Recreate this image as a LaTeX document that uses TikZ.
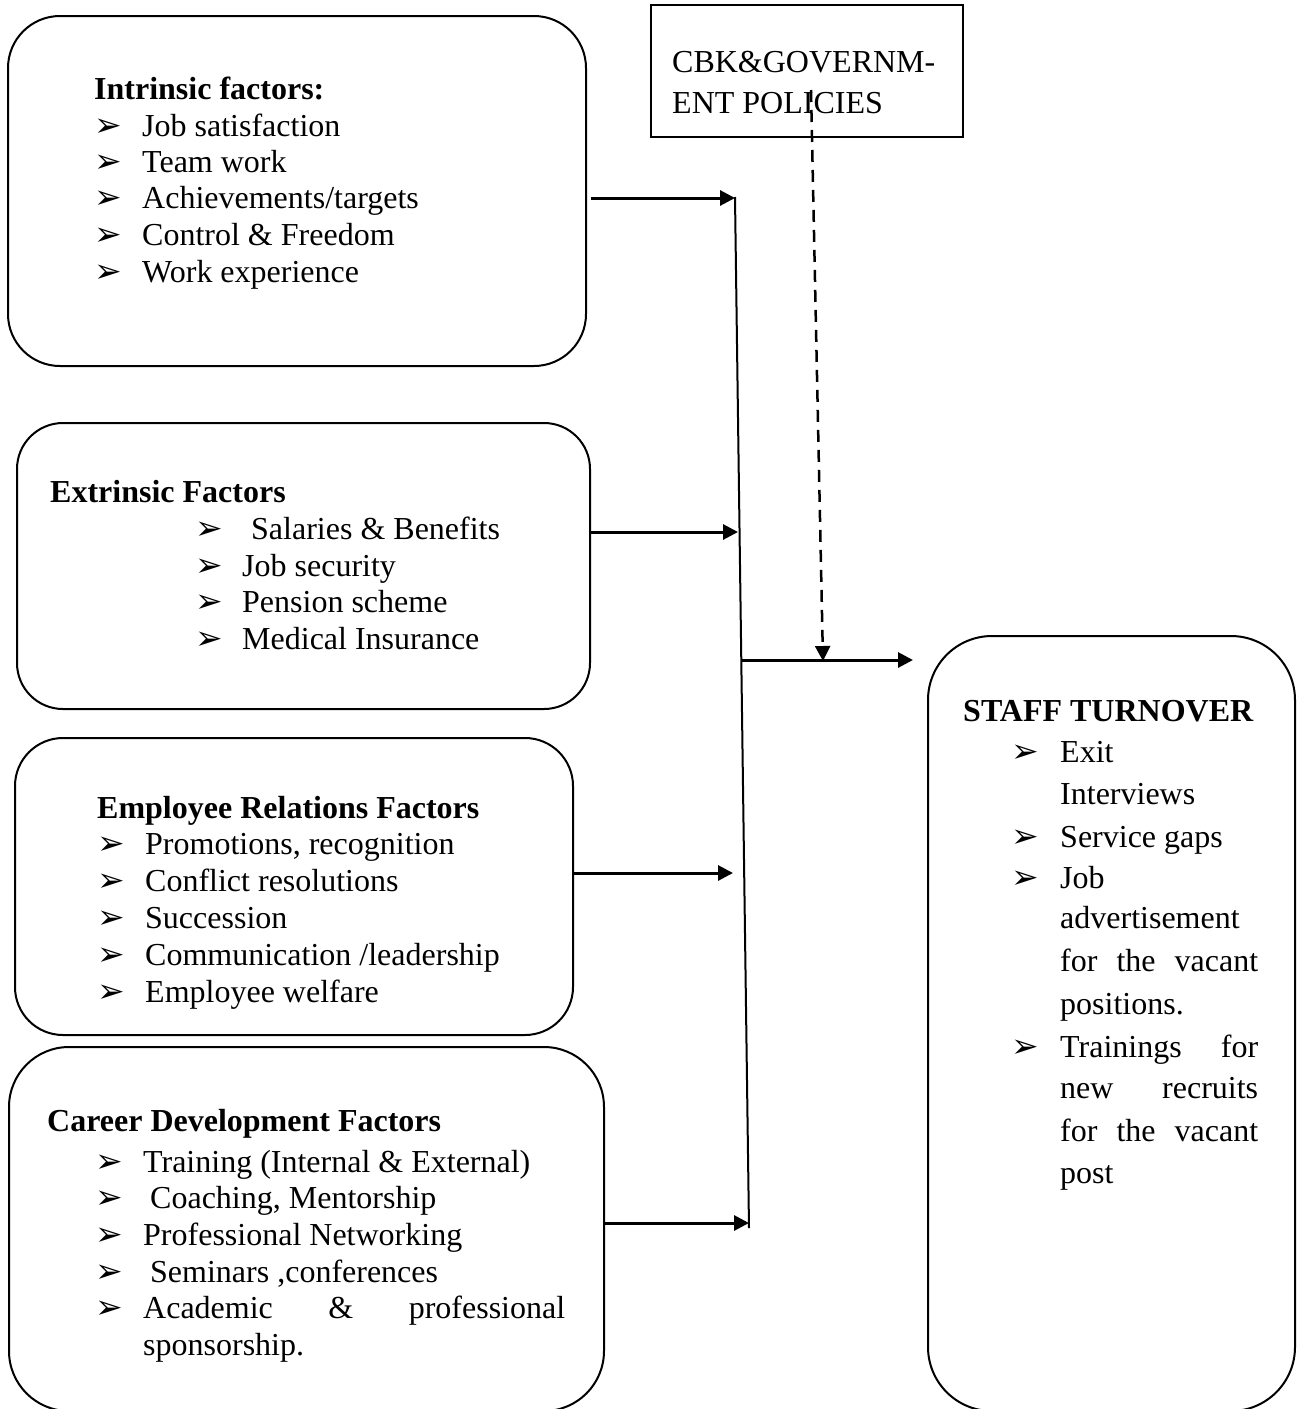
\documentclass[tikz,border=0pt]{standalone}
\usepackage{fontspec}
\setmainfont{Liberation Serif}
\newfontfamily\dejavu{DejaVu Sans}
\usetikzlibrary{arrows.meta}
\newcommand\fs{\fontsize{32}{36}\selectfont}
\newcommand\bulfont{\dejavu\fontsize{33}{36}\selectfont}
\newcommand\bitem[5]{%
  \node[bul] (#1b) at (#2,#4) {➢};
  \node[txt] (#1) at (#3,#4) {#5};}
\tikzset{
  boxs/.style={draw, line width=2pt, inner sep=0pt},
  txt/.style={anchor=base west, inner sep=0pt, font=\fs},
  ttl/.style={anchor=base west, inner sep=0pt, font=\fs\bfseries},
  bul/.style={anchor=base west, inner sep=0pt, font=\bulfont},
  arr/.style={line width=3pt, -{Triangle[length=15pt,width=15pt]}},
  vline/.style={line width=2pt},
  dsh/.style={line width=2.5pt, dash pattern=on 12pt off 8pt, -{Triangle[length=15pt,width=15pt]}},
}
\begin{document}
\begin{tikzpicture}[x=1pt,y=-1pt]
\useasboundingbox (0,0) rectangle (1297,1409);
% boxes
\node[boxs, rounded corners=52pt, minimum width=578pt, minimum height=350pt] (intr) at (297,191) {};
\node[boxs, rounded corners=46pt, minimum width=573pt, minimum height=286pt] (extr) at (303.5,566) {};
\node[boxs, rounded corners=48pt, minimum width=558pt, minimum height=297pt] (empr) at (294,886.5) {};
\node[boxs, rounded corners=60pt, minimum width=595pt, minimum height=364pt] (care) at (306.5,1229) {};
\node[boxs, rounded corners=64pt, minimum width=367pt, minimum height=775pt] (stt) at (1111.5,1023.5) {};
\node[boxs, minimum width=312pt, minimum height=132pt] (cbk) at (807,71) {};
% intrinsic
\node[ttl] (i0) at (94,99) {Intrinsic factors:};
\bitem{i1}{94}{142}{136}{Job satisfaction}
\bitem{i2}{94}{142}{172}{Team work}
\bitem{i3}{94}{142}{208}{Achievements/targets}
\bitem{i4}{94}{142}{245}{Control \& Freedom}
\bitem{i5}{94}{142}{282}{Work experience}
% extrinsic
\node[ttl] (e0) at (50,502) {Extrinsic Factors};
\bitem{e1}{195}{251}{539}{Salaries \& Benefits}
\bitem{e2}{195}{242}{576}{Job security}
\bitem{e3}{195}{242}{612}{Pension scheme}
\bitem{e4}{195}{242}{649}{Medical Insurance}
% employee relations
\node[ttl] (r0) at (97,818) {Employee Relations Factors};
\bitem{r1}{97}{145}{854}{Promotions, recognition}
\bitem{r2}{97}{145}{891}{Conflict resolutions}
\bitem{r3}{97}{145}{928}{Succession}
\bitem{r4}{97}{145}{965}{Communication /leadership}
\bitem{r5}{97}{145}{1002}{Employee welfare}
% career
\node[ttl] (c0) at (47,1131) {Career Development Factors};
\bitem{c1}{95}{143}{1172}{Training (Internal \& External)}
\bitem{c2}{95}{150}{1208}{Coaching, Mentorship}
\bitem{c3}{95}{143}{1245}{Professional Networking}
\bitem{c4}{95}{150}{1282}{Seminars ,conferences}
\bitem{c5}{95}{143}{1318}{\makebox[422pt][s]{Academic \& professional}}
\node[txt] (c6) at (143,1355) {sponsorship.};
% staff turnover
\node[ttl] (s0) at (963,721) {STAFF TURNOVER};
\bitem{s1}{1011}{1060}{762}{Exit}
\node[txt] (s2) at (1060,804) {Interviews};
\bitem{s3}{1011}{1060}{847}{Service gaps}
\bitem{s4}{1011}{1060}{888}{Job}
\node[txt] (s5) at (1060,928) {advertisement};
\node[txt] (s6) at (1060,971) {\makebox[198pt][s]{for the vacant}};
\node[txt] (s7) at (1060,1014) {positions.};
\bitem{s8}{1011}{1060}{1057}{\makebox[198pt][s]{Trainings for}}
\node[txt] (s9) at (1060,1098) {\makebox[198pt][s]{new recruits}};
\node[txt] (s10) at (1060,1141) {\makebox[198pt][s]{for the vacant}};
\node[txt] (s11) at (1060,1183) {post};
% CBK
\node[txt] (p1) at (672,72) {CBK\&GOVERNM-};
\node[txt] (p2) at (672,113) {ENT POLICIES};
% connectors
\coordinate (vtop) at (735,197);
\coordinate (vbot) at (749,1228);
\coordinate (a1) at (735,198);
\coordinate (a2) at (738,532);
\coordinate (a3) at (733,873);
\coordinate (a4) at (749,1223);
\coordinate (hs) at (741,660);
\coordinate (ht) at (913,660);
\coordinate (dtop) at (811,90);
\coordinate (dbot) at (823,661);
\draw[vline] (vtop) -- (vbot);
\draw[arr] ([xshift=4pt]intr.east |- a1) -- (a1);
\draw[arr] (extr.east |- a2) -- (a2);
\draw[arr] (empr.east |- a3) -- (a3);
\draw[arr] (care.east |- a4) -- (a4);
\draw[arr] (hs) -- (ht);
\draw[dsh] (dtop) -- (dbot);
\end{tikzpicture}
\end{document}
